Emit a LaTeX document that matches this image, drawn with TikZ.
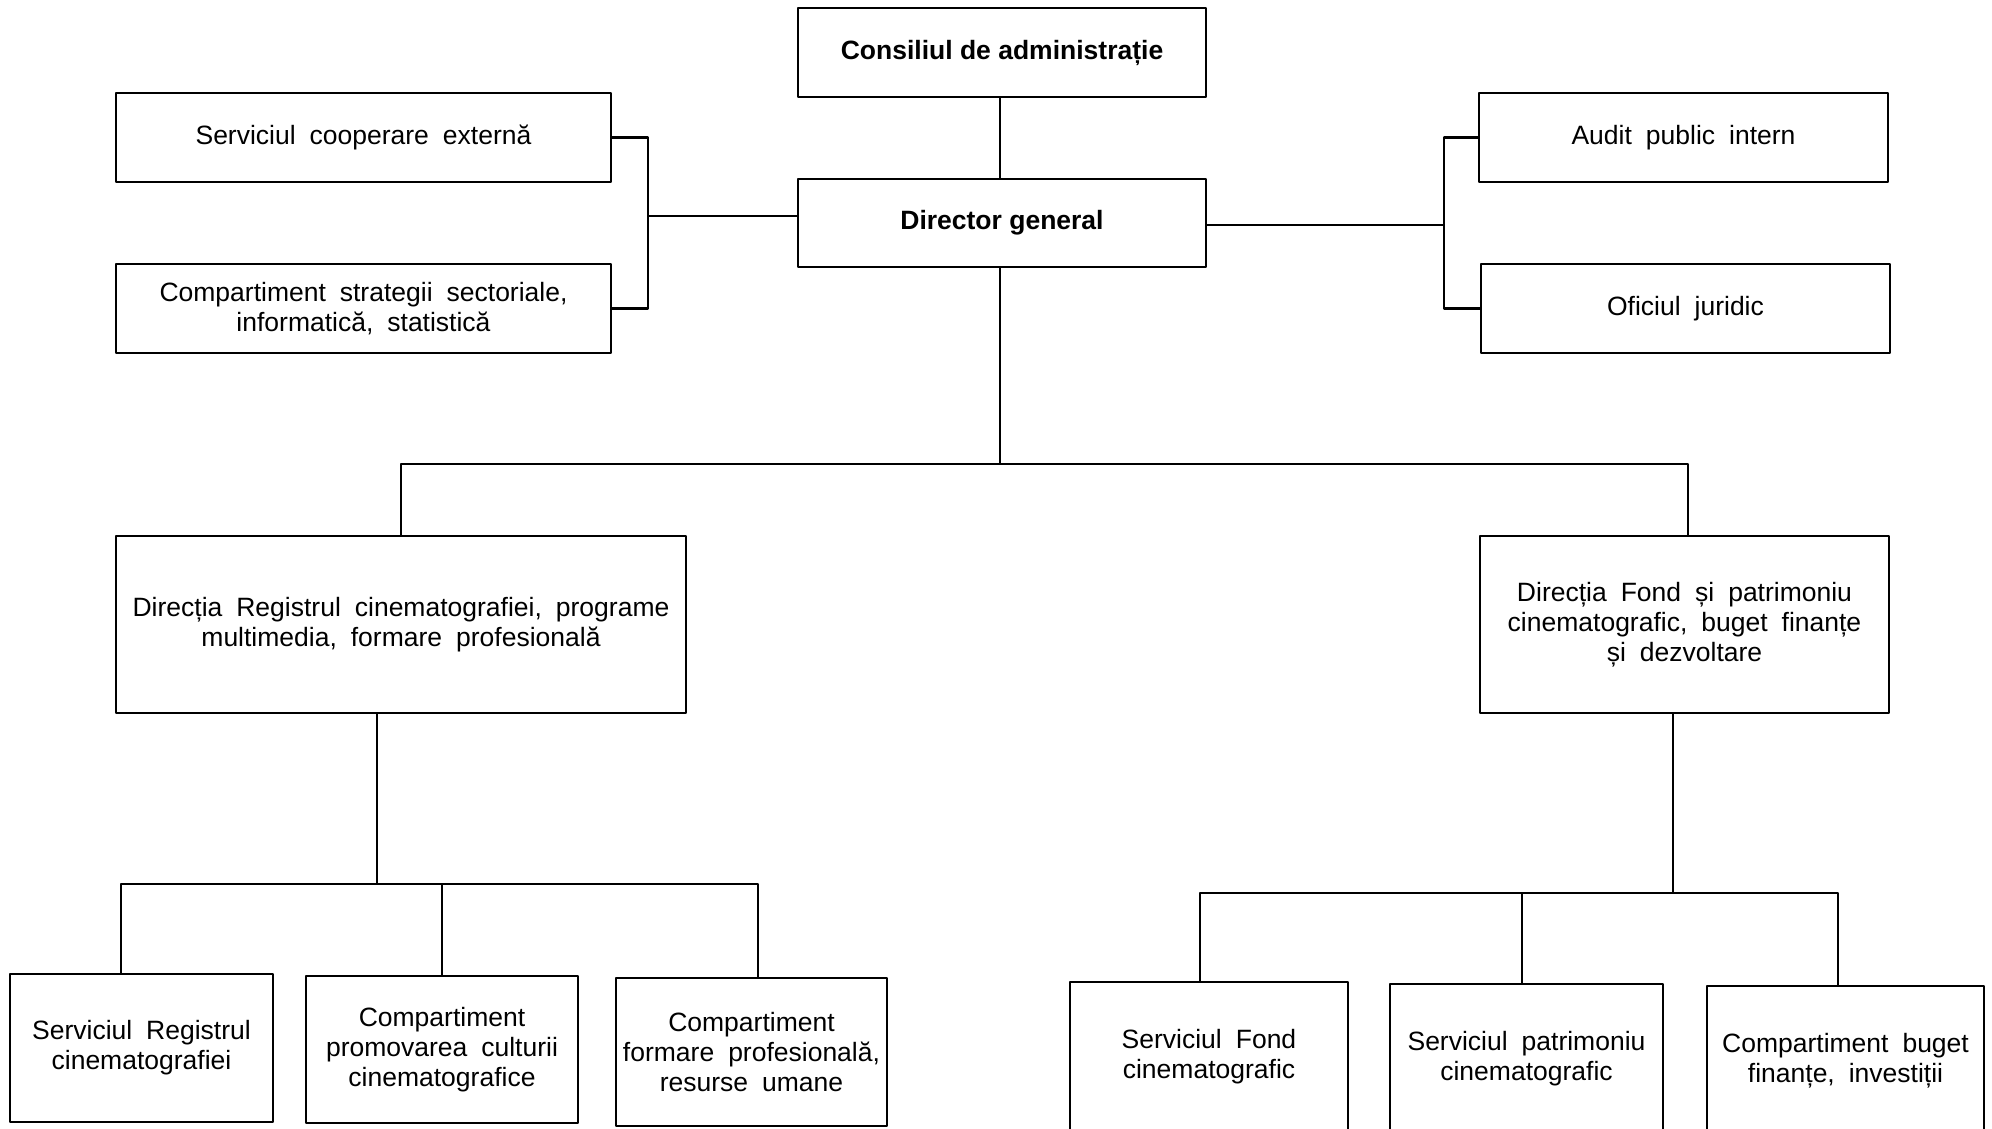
\documentclass[tikz,border=0pt]{standalone}
\usepackage{fontspec}
\setmainfont{Liberation Sans}[WordSpace=1.9,BoldFeatures={WordSpace=1}]
\begin{document}
\begin{tikzpicture}[x=0.5pt,y=-0.5pt, line join=round, font=\fontsize{13.25}{15}\selectfont,
		box/.style={draw, line width=1.3pt, align=center, inner sep=0pt},
		link/.style={line width=1.1pt}]
			\clip (0,0) rectangle (1992,1129);
			%\draw[color=gray!50,dashed] (0,0) grid[step=100] (1992,1129);
			% conducere
			\node[box, minimum width=204pt, minimum height=44.5pt, font=\fontsize{13.25}{15}\selectfont\bfseries] (cons) at (1002,52.5) {Consiliul de administrație};
			\node[box, minimum width=204pt, minimum height=44pt, font=\fontsize{13.25}{15}\selectfont\bfseries] (dir) at (1002,223) {Director general};
			\node[box, minimum width=247.5pt, minimum height=44.5pt] (coop) at (363.5,137.5) {Serviciul cooperare externă};
			\node[box, minimum width=247.5pt, minimum height=44.5pt] (strat) at (363.5,308.5) {Compartiment strategii sectoriale,\\ informatică, statistică};
			\node[box, minimum width=204.5pt, minimum height=44.5pt] (audit) at (1683.5,137.5) {Audit public intern};
			\node[box, minimum width=204.5pt, minimum height=44.5pt] (ofic) at (1685.5,308.5) {Oficiul juridic};
			% directii
			\node[box, minimum width=285pt, minimum height=88.5pt] (dreg) at (401,624.5) {Direcția Registrul cinematografiei, programe\\ multimedia, formare profesională};
			\node[box, minimum width=204.5pt, minimum height=88.5pt] (dfond) at (1684.5,624.5) {Direcția Fond și patrimoniu\\ cinematografic, buget finanțe\\ și dezvoltare};
			% servicii si compartimente
			\node[box, minimum width=131.5pt, minimum height=74pt] (sreg) at (141.5,1048) {Serviciul Registrul\\ cinematografiei};
			\node[box, minimum width=136pt, minimum height=73.5pt] (cprom) at (442,1049.5) {Compartiment\\ promovarea culturii\\ cinematografice};
			\node[box, minimum width=135.5pt, minimum height=74pt] (cform) at (751.5,1052) {Compartiment\\ formare profesională,\\ resurse umane};
			\node[box, minimum width=139pt, minimum height=75pt] (sfond) at (1209,1057) {Serviciul Fond\\ cinematografic};
			\node[box, minimum width=136.5pt, minimum height=75pt] (spatr) at (1526.5,1059) {Serviciul patrimoniu\\ cinematografic};
			\node[box, minimum width=138.5pt, minimum height=75pt] (cbug) at (1845.5,1061) {Compartiment buget\\ finanțe, investiții};
			% legaturi
			\coordinate (lj) at (648,216);
			\coordinate (rj) at (1444,225);
			\coordinate (b1) at (1000,464);
			\coordinate (b2) at (377,884);
			\coordinate (b3) at (1673,893);
			\draw[link] (cons.south -| b1) -- (dir.north -| b1);
			\draw[link] (coop.east) -| (lj) |- (strat.east);
			\draw[link] (lj) -- (dir.west |- lj);
			\draw[link] (audit.west) -| (rj) |- (ofic.west);
			\draw[link] (rj) -- (dir.east |- rj);
			\draw[link] (dir.south -| b1) -- (b1);
			\draw[link] (dreg.north) |- (b1) -| ([xshift=1.75pt]dfond.north);
			\draw[link] (dreg.south -| b2) -- (b2);
			\draw[link] ([xshift=-10.25pt]sreg.north) |- (b2) -| ([xshift=3.25pt]cform.north);
			\draw[link] (cprom.north) -- (cprom.north |- b2);
			\draw[link] (dfond.south -| b3) -- (b3);
			\draw[link] ([xshift=-4.5pt]sfond.north) |- (b3) -| ([xshift=-3.75pt]cbug.north);
			\draw[link] ([xshift=-2.25pt]spatr.north) -- ([xshift=-2.25pt]spatr.north |- b3);
		\end{tikzpicture}
\end{document}
